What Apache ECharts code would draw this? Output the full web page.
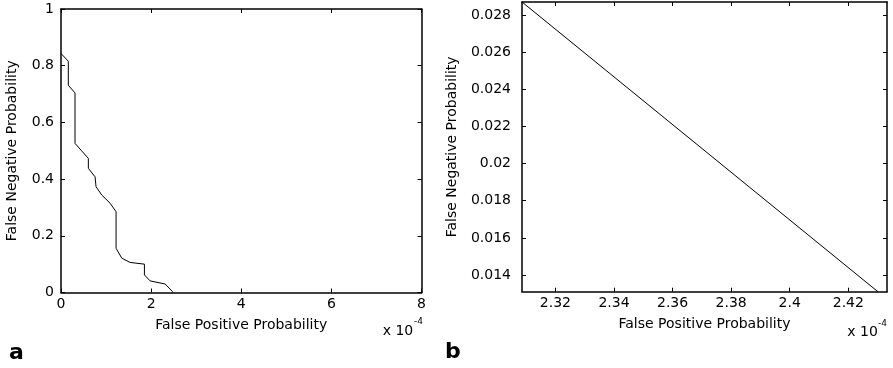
<!DOCTYPE html>
<html>
<head>
<meta charset="utf-8">
<script src="https://cdn.jsdelivr.net/npm/echarts@6/dist/echarts.min.js"></script>
<style>
html,body{margin:0;padding:0;background:#fff;}
#chart{width:893px;height:368px;}
</style>
</head>
<body>
<div id="chart"></div>
<script>
// Panel a: ROC-like curve (False Positive Probability in units of 1e-4)
var fpA = [0, 0.162, 0.162, 0.311, 0.311, 0.607, 0.607, 0.644, 0.756, 0.778, 0.904, 1.089, 1.222, 1.222, 1.349, 1.533, 1.851, 1.851, 1.978, 2.311, 2.473, 2.49];
var fnA = [0.843, 0.816, 0.731, 0.704, 0.526, 0.473, 0.438, 0.432, 0.408, 0.373, 0.344, 0.315, 0.285, 0.156, 0.121, 0.106, 0.100, 0.062, 0.041, 0.030, 0.0035, 0];
// Panel b: zoomed segment
var fpB = [2.3086, 2.4301];
var fnB = [0.0287, 0.0131];
// Tick labels
var xTicksA = [0, 2, 4, 6, 8];
var yTicksA = [0, 0.2, 0.4, 0.6, 0.8, 1];
var xTicksB = [2.32, 2.34, 2.36, 2.38, 2.40, 2.42];
var yTicksB = [0.014, 0.016, 0.018, 0.020, 0.022, 0.024, 0.026, 0.028];
var xTitle = 'False Positive Probability';
var yTitle = 'False Negative Probability';

var FONT = 'DejaVu Sans';
function fmt(v){ return String(parseFloat(Number(v).toFixed(5))); }
function pair(xs, ys){ return xs.map(function(x,i){ return [x, ys[i]]; }); }

var lineW = 1.5;
function axisBase(pos, gridIndex, min, max, opts){
  var isX = (pos === 'bottom' || pos === 'top');
  var main = (pos === 'bottom' || pos === 'left');
  var a = {
    type: 'value', gridIndex: gridIndex, position: pos, min: min, max: max,
    splitLine: {show: false},
    axisLine: {show: true, onZero: false, lineStyle: {color: '#000', width: lineW}},
    axisTick: {show: true, inside: true, length: 4, lineStyle: {color: '#000', width: 1}},
    axisLabel: {show: main, color: '#000', fontFamily: FONT, fontSize: 14, formatter: fmt,
                margin: isX ? 5 : (gridIndex === 0 ? 7 : 11),
                showMinLabel: true, showMaxLabel: true}
  };
  if (opts.interval !== undefined) a.interval = opts.interval;
  if (opts.custom) {
    a.axisTick.customValues = opts.custom;
    a.axisLabel.customValues = opts.custom;
  }
  if (main) {
    a.name = isX ? xTitle : yTitle;
    a.nameLocation = 'middle';
    a.nameGap = opts.nameGap;
    a.nameTextStyle = {color: '#000', fontFamily: FONT, fontSize: 14};
  }
  return a;
}

var chart = echarts.init(document.getElementById('chart'), null, {renderer: 'canvas'});
chart.setOption({
  animation: false,
  backgroundColor: '#fff',
  grid: [
    {left: 61, top: 9, width: 360.5, height: 283.5},
    {left: 522, top: 2, width: 365, height: 289.7}
  ],
  xAxis: [
    axisBase('bottom', 0, xTicksA[0], xTicksA[xTicksA.length-1], {interval: 2, nameGap: 26}),
    axisBase('top', 0, xTicksA[0], xTicksA[xTicksA.length-1], {interval: 2}),
    axisBase('bottom', 1, 2.3086, 2.4332, {custom: xTicksB, nameGap: 26}),
    axisBase('top', 1, 2.3086, 2.4332, {custom: xTicksB})
  ],
  yAxis: [
    axisBase('left', 0, yTicksA[0], yTicksA[yTicksA.length-1], {interval: 0.2, nameGap: 42}),
    axisBase('right', 0, yTicksA[0], yTicksA[yTicksA.length-1], {interval: 0.2}),
    axisBase('left', 1, 0.013101, 0.0287, {custom: yTicksB, nameGap: 63}),
    axisBase('right', 1, 0.013101, 0.0287, {custom: yTicksB})
  ],
  series: [
    {type: 'line', xAxisIndex: 0, yAxisIndex: 0, data: pair(fpA, fnA), showSymbol: false, symbol: 'none',
     lineStyle: {color: '#000', width: 1}},
    {type: 'line', xAxisIndex: 2, yAxisIndex: 2, data: pair(fpB, fnB), showSymbol: false, symbol: 'none',
     lineStyle: {color: '#000', width: 1}}
  ],
  graphic: [
    {type: 'text', x: 382.7, y: 331, style: {text: 'x 10', fill: '#000', font: '14px "DejaVu Sans"', textAlign: 'left', textVerticalAlign: 'middle'}},
    {type: 'text', x: 414, y: 322, style: {text: '-4', fill: '#000', font: '9px "DejaVu Sans"', textAlign: 'left', textVerticalAlign: 'middle'}},
    {type: 'text', x: 847.3, y: 332, style: {text: 'x 10', fill: '#000', font: '14px "DejaVu Sans"', textAlign: 'left', textVerticalAlign: 'middle'}},
    {type: 'text', x: 878, y: 323.5, style: {text: '-4', fill: '#000', font: '9px "DejaVu Sans"', textAlign: 'left', textVerticalAlign: 'middle'}},
    {type: 'text', x: 9, y: 352.8, style: {text: 'a', fill: '#000', font: 'bold 22px "DejaVu Sans"', textAlign: 'left', textVerticalAlign: 'middle'}},
    {type: 'text', x: 445, y: 352.3, style: {text: 'b', fill: '#000', font: 'bold 22px "DejaVu Sans"', textAlign: 'left', textVerticalAlign: 'middle'}}
  ]
});
</script>
</body>
</html>
